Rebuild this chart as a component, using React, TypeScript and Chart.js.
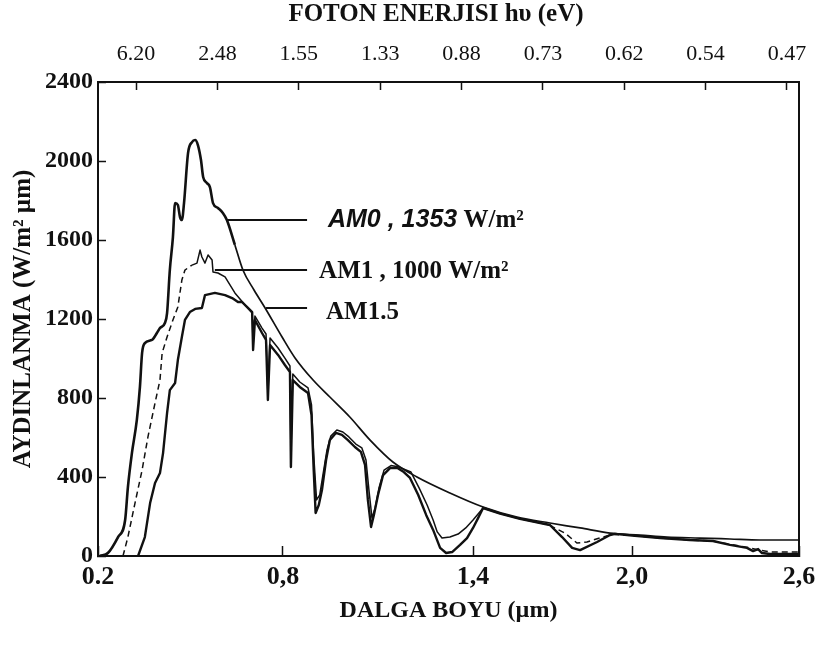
import React, { useEffect, useRef } from 'react';
import { Chart, registerables, LinearScale } from 'chart.js';

Chart.register(...registerables);

// ---------------- data ----------------
const seriesNames = ['AM0', 'AM1', 'AM1.5'];

const am0Wavelength = [
  0.206, 0.232, 0.265, 0.288, 0.297, 0.31, 0.326, 0.336, 0.343, 0.352, 0.375, 0.391, 0.401, 0.417,
  0.424, 0.433, 0.443, 0.45, 0.459, 0.466, 0.472, 0.479, 0.492, 0.505, 0.515, 0.524, 0.534, 0.541,
  0.553, 0.563, 0.573, 0.589, 0.605, 0.618, 0.644, 0.67, 0.706, 0.742, 0.797, 0.838, 0.895, 0.948,
  1.011, 1.075, 1.147, 1.223, 1.327, 1.438, 1.566, 1.69, 1.804, 1.917, 2.029, 2.126, 2.244, 2.352,
  2.46, 2.6,
];
const am0Irradiance = [
  0, 15, 96, 182, 349, 521, 689, 856, 1028, 1078, 1094, 1129, 1154, 1180,
  1230, 1448, 1615, 1787, 1777, 1716, 1701, 1787, 2040, 2096, 2106, 2081, 2005, 1919,
  1889, 1868, 1787, 1762, 1737, 1701, 1575, 1448, 1347, 1256, 1109, 1003, 891, 805,
  704, 587, 476, 400, 319, 248, 197, 167, 142, 116, 106, 96, 91, 86,
  81, 81,
];

const am1Wavelength = [
  0.281, 0.297, 0.32, 0.343, 0.362, 0.385, 0.401, 0.408, 0.424, 0.443, 0.459, 0.472, 0.482, 0.505,
  0.521, 0.531, 0.537, 0.547, 0.557, 0.57, 0.573, 0.589, 0.612, 0.644, 0.677, 0.7, 0.703, 0.709,
  0.732, 0.745, 0.751, 0.758, 0.784, 0.806, 0.822, 0.825, 0.831, 0.853, 0.879, 0.89, 0.897, 0.906,
  0.916, 0.926, 0.939, 0.951, 0.97, 0.989, 1.008, 1.03, 1.049, 1.062, 1.072, 1.081, 1.091, 1.103,
  1.119, 1.141, 1.163, 1.182, 1.204, 1.23, 1.255, 1.274, 1.287, 1.302, 1.327, 1.353, 1.377, 1.4,
  1.419, 1.438, 1.502, 1.577, 1.69, 1.701, 1.747, 1.792, 1.83, 1.89, 1.925, 2.0, 2.101, 2.208,
  2.291, 2.323, 2.406, 2.46, 2.496, 2.6,
];
const am1Irradiance = [
  0, 96, 268, 435, 603, 775, 891, 1028, 1109, 1195, 1261, 1397, 1448, 1473,
  1483, 1549, 1514, 1483, 1524, 1499, 1438, 1433, 1413, 1332, 1271, 1230, 1068, 1215,
  1154, 1124, 815, 1104, 1053, 1002, 962, 511, 921, 881, 851, 765, 511, 284,
  309, 410, 537, 608, 638, 628, 603, 567, 547, 486, 324, 192, 243, 344,
  435, 458, 452, 440, 425, 344, 258, 182, 122, 91, 96, 111, 142, 182,
  213, 243, 215, 188, 157, 147, 116, 66, 71, 96, 110, 104, 91, 81,
  76, 66, 46, 30, 20, 20,
];

const am15Wavelength = [
  0.33, 0.352, 0.369, 0.385, 0.401, 0.411, 0.424, 0.433, 0.45, 0.459, 0.472, 0.482, 0.498, 0.515,
  0.537, 0.547, 0.579, 0.612, 0.635, 0.654, 0.667, 0.683, 0.7, 0.703, 0.709, 0.732, 0.745, 0.751,
  0.758, 0.784, 0.806, 0.822, 0.825, 0.831, 0.853, 0.879, 0.89, 0.897, 0.903, 0.913, 0.923, 0.936,
  0.948, 0.967, 0.986, 1.005, 1.027, 1.046, 1.059, 1.068, 1.078, 1.087, 1.1, 1.116, 1.138, 1.16,
  1.179, 1.201, 1.227, 1.252, 1.274, 1.296, 1.315, 1.334, 1.359, 1.381, 1.4, 1.419, 1.438, 1.502,
  1.577, 1.69, 1.736, 1.774, 1.804, 1.868, 1.917, 1.936, 2.0, 2.101, 2.208, 2.291, 2.352, 2.413,
  2.435, 2.453, 2.467, 2.496, 2.6,
];
const am15Irradiance = [
  0, 96, 268, 370, 420, 521, 724, 840, 876, 992, 1109, 1195, 1235, 1251,
  1256, 1321, 1332, 1321, 1306, 1286, 1286, 1261, 1235, 1043, 1195, 1129, 1094, 790,
  1068, 1018, 967, 932, 451, 891, 856, 825, 714, 435, 218, 258, 334, 486,
  587, 623, 613, 587, 552, 527, 461, 284, 147, 208, 309, 410, 445, 447,
  428, 395, 309, 208, 132, 41, 15, 20, 56, 91, 142, 192, 243, 215,
  188, 157, 96, 41, 30, 71, 106, 112, 104, 91, 81, 76, 56, 41,
  25, 35, 15, 10, 10,
];

const waveTickValues = [0.2, 0.8, 1.4, 2.0, 2.6];
const waveTickLabels = ['0.2', '0,8', '1,4', '2,0', '2,6'];
const energyTickLabels = ['6.20', '2.48', '1.55', '1.33', '0.88', '0.73', '0.62', '0.54', '0.47'];
const irradianceTicks = [0, 400, 800, 1200, 1600, 2000, 2400];

// ---------------- axis calibration of the scanned figure ----------------
// the printed wavelength axis is unevenly spaced; these knots reproduce it
const WAVE_KNOTS = [0.2, 0.8, 1.4, 2.0, 2.6];
const WAVE_FRACS = [0, 0.2639, 0.535, 0.7618, 1];

function waveToFrac(v: number): number {
  const k = WAVE_KNOTS, f = WAVE_FRACS;
  let i = 0;
  if (v >= k[k.length - 1]) i = k.length - 2;
  else {
    while (i < k.length - 2 && v > k[i + 1]) i++;
  }
  return f[i] + ((v - k[i]) / (k[i + 1] - k[i])) * (f[i + 1] - f[i]);
}
function fracToWave(fr: number): number {
  const k = WAVE_KNOTS, f = WAVE_FRACS;
  let i = 0;
  while (i < f.length - 2 && fr > f[i + 1]) i++;
  return k[i] + ((fr - f[i]) / (f[i + 1] - f[i])) * (k[i + 1] - k[i]);
}

class WarpedWaveScale extends LinearScale {
  static id = 'warpedWave';
  static defaults = {};
  getPixelForValue(value: any) {
    if (value === null || value === undefined || isNaN(value)) return NaN;
    return this.getPixelForDecimal(waveToFrac(+value));
  }
  getValueForPixel(pixel: number) {
    return fracToWave(this.getDecimalForPixel(pixel));
  }
}
Chart.register(WarpedWaveScale as any);

// ---------------- annotation config ----------------
const leaderLines = [
  { from: 0.618, to: 0.876, level: 1701 },
  { from: 0.579, to: 0.876, level: 1448 },
  { from: 0.745, to: 0.876, level: 1256 },
];
const labelAnchors = [
  { wave: 0.942, level: 1666 },
  { wave: 0.914, level: 1408 },
  { wave: 0.936, level: 1200 },
];
const SERIF = '"Liberation Serif", "Times New Roman", serif';
const SANS = '"Liberation Sans", Arial, sans-serif';
const labelParts = [
  [
    { text: 'AM0 , 1353', font: `italic bold 25px ${SANS}` },
    { text: ' W/m²', font: `bold 25px ${SERIF}` },
  ],
  [{ text: 'AM1 , 1000 W/m²', font: `bold 25px ${SERIF}` }],
  [{ text: 'AM1.5', font: `bold 25px ${SERIF}` }],
];

const INK = '#111111';

const annotationPlugin = {
  id: 'amAnnotations',
  afterDatasetsDraw(chart: any) {
    const { ctx, scales } = chart;
    const xs = scales.x, ys = scales.y;
    ctx.save();
    ctx.strokeStyle = INK;
    ctx.lineWidth = 2;
    leaderLines.forEach((l) => {
      const py = ys.getPixelForValue(l.level);
      ctx.beginPath();
      ctx.moveTo(xs.getPixelForValue(l.from), py);
      ctx.lineTo(xs.getPixelForValue(l.to), py);
      ctx.stroke();
    });
    ctx.fillStyle = INK;
    ctx.textBaseline = 'alphabetic';
    ctx.textAlign = 'left';
    labelParts.forEach((parts, i) => {
      let px = xs.getPixelForValue(labelAnchors[i].wave);
      const py = ys.getPixelForValue(labelAnchors[i].level);
      parts.forEach((p) => {
        ctx.font = p.font;
        ctx.fillText(p.text, px, py);
        px += ctx.measureText(p.text).width;
      });
    });
    ctx.restore();
  },
};

function toPoints(xs: number[], ys: number[]) {
  return xs.map((x, i) => ({ x, y: ys[i] }));
}

function fixBox(size: { width?: number; height?: number }) {
  return (s: any) => {
    if (size.width !== undefined) s.width = size.width;
    if (size.height !== undefined) s.height = size.height;
    s.paddingLeft = 0;
    s.paddingRight = 0;
    s.paddingTop = 0;
    s.paddingBottom = 0;
  };
}

export default function App() {
  const ref = useRef<HTMLCanvasElement>(null);

  useEffect(() => {
    if (!ref.current) return;
    Chart.defaults.font.family = SERIF;
    const chart = new Chart(ref.current, {
      type: 'line',
      data: {
        datasets: [
          {
            label: seriesNames[0],
            data: toPoints(am0Wavelength, am0Irradiance),
            borderColor: INK,
            borderWidth: 1.6,
            pointRadius: 0,
            fill: false,
            cubicInterpolationMode: 'monotone',
            borderJoinStyle: 'round',
            segment: {
              borderWidth: (c: any) => (c.p0.parsed.x < 0.62 ? 2.6 : 1.7),
            },
          },
          {
            label: seriesNames[1],
            data: toPoints(am1Wavelength, am1Irradiance),
            borderColor: INK,
            borderWidth: 1.5,
            pointRadius: 0,
            fill: false,
            tension: 0,
            borderJoinStyle: 'round',
            segment: {
              borderDash: (c: any) =>
                c.p0.parsed.x < 0.49 || c.p0.parsed.x >= 1.69 ? [6, 4] : undefined,
            },
          },
          {
            label: seriesNames[2],
            data: toPoints(am15Wavelength, am15Irradiance),
            borderColor: INK,
            borderWidth: 2.4,
            pointRadius: 0,
            fill: false,
            tension: 0,
            borderJoinStyle: 'round',
          },
        ],
      } as any,
      options: {
        responsive: false,
        animation: false,
        devicePixelRatio: 1,
        layout: { padding: { left: 0, right: 28, top: 0, bottom: 0 }, autoPadding: false },
        plugins: { legend: { display: false }, tooltip: { enabled: false } },
        scales: {
          x: {
            type: 'warpedWave',
            position: 'bottom',
            min: 0.2,
            max: 2.6,
            afterBuildTicks: (s: any) => {
              s.ticks = waveTickValues.map((v) => ({ value: v }));
            },
            afterFit: fixBox({ height: 89 }),
            ticks: {
              autoSkip: false,
              maxRotation: 0,
              minRotation: 0,
              padding: 16,
              color: INK,
              font: { family: SERIF, size: 26, weight: 'bold' },
              callback: (_v: any, i: number) => waveTickLabels[i],
            },
            grid: {
              drawOnChartArea: false,
              drawTicks: true,
              tickLength: -10,
              tickColor: INK,
              tickWidth: 1.5,
              color: INK,
            },
            border: { display: true, color: INK, width: 2 },
            title: {
              display: true,
              text: 'DALGA BOYU (µm)',
              color: INK,
              font: { family: SERIF, size: 24, weight: 'bold' },
              padding: { top: 0, bottom: 20 },
            },
          },
          x2: {
            type: 'linear',
            position: 'top',
            min: -0.468,
            max: 8.148,
            afterBuildTicks: (s: any) => {
              s.ticks = energyTickLabels.map((_l, i) => ({ value: i }));
            },
            afterFit: fixBox({ height: 82 }),
            ticks: {
              autoSkip: false,
              maxRotation: 0,
              minRotation: 0,
              padding: 23,
              color: INK,
              font: { family: SERIF, size: 22 },
              callback: (_v: any, i: number) => energyTickLabels[i],
            },
            grid: {
              drawOnChartArea: false,
              drawTicks: true,
              tickLength: -8,
              tickColor: INK,
              tickWidth: 1.5,
              color: INK,
            },
            border: { display: true, color: INK, width: 2 },
            title: {
              display: true,
              text: 'FOTON ENERJISI hυ (eV)    ',
              color: INK,
              font: { family: SERIF, size: 25, weight: 'bold' },
              padding: { top: 0, bottom: 0 },
            },
          },
          y: {
            type: 'linear',
            position: 'left',
            min: 0,
            max: 2400,
            afterBuildTicks: (s: any) => {
              s.ticks = irradianceTicks.map((v) => ({ value: v }));
            },
            afterFit: fixBox({ width: 98 }),
            ticks: {
              padding: 13,
              color: INK,
              font: { family: SERIF, size: 24, weight: 'bold' },
              callback: (v: any) => String(v),
            },
            grid: {
              drawOnChartArea: false,
              drawTicks: true,
              tickLength: -8,
              tickColor: INK,
              tickWidth: 1.5,
              color: INK,
            },
            border: { display: true, color: INK, width: 2 },
            title: {
              display: true,
              text: 'AYDINLANMA (W/m² µm)',
              color: INK,
              font: { family: SERIF, size: 25, weight: 'bold' },
              padding: { top: 9, bottom: 0 },
            },
          },
          y2: {
            type: 'linear',
            position: 'right',
            min: 0,
            max: 2400,
            afterFit: fixBox({ width: 0 }),
            ticks: { display: false },
            grid: { display: false },
            border: { display: true, color: INK, width: 2 },
          },
        },
      } as any,
      plugins: [annotationPlugin],
    });
    return () => chart.destroy();
  }, []);

  return (
    <div
      style={{
        position: 'fixed',
        left: 0,
        top: 0,
        width: 827,
        height: 645,
        background: '#ffffff',
      }}
    >
      <canvas ref={ref} width={827} height={645} style={{ width: 827, height: 645, display: 'block' }} />
    </div>
  );
}
